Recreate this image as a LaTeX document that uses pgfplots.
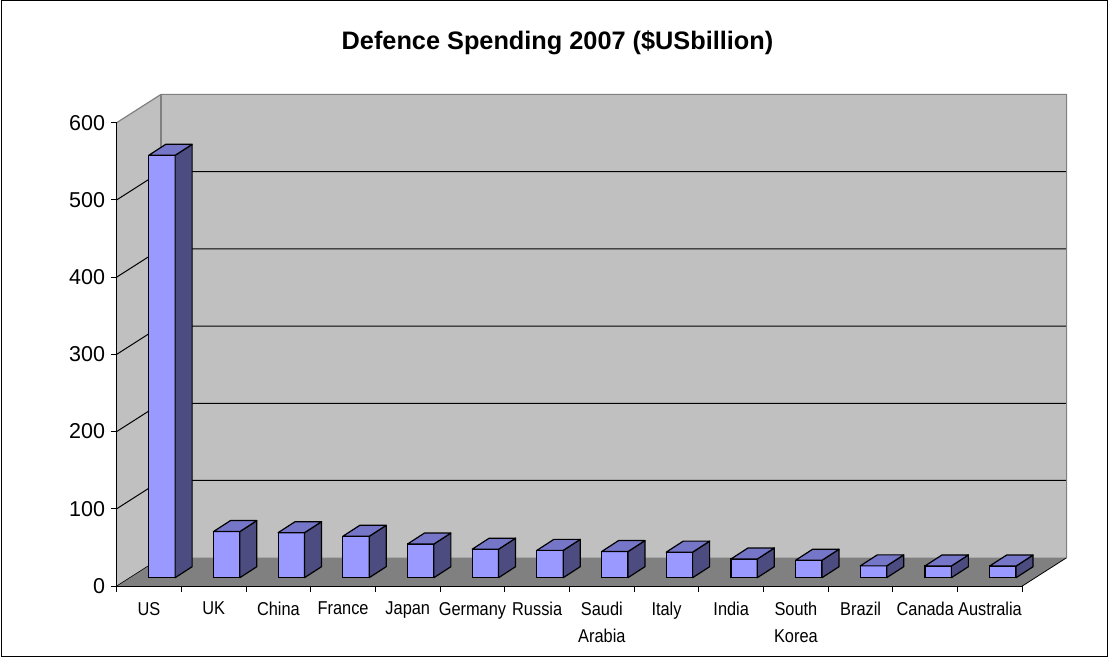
\documentclass[border=0pt]{standalone}
\usepackage{fontspec}
\setmainfont{Liberation Sans}
\newfontfamily\catfont[FakeStretch=0.88]{Liberation Sans}
\usepackage{pgfplots}
\usepackage{pgfplotstable}
\pgfplotsset{compat=1.18}
\definecolor{barfront}{HTML}{9999FF}
\definecolor{bartop}{HTML}{7676C8}
\definecolor{barside}{HTML}{4C4C80}
\definecolor{wallcol}{HTML}{C0C0C0}
\definecolor{floorcol}{HTML}{808080}
\definecolor{edgegray}{HTML}{808080}

\pgfplotstableread{
x val
0 547
1 59.7
2 58.3
3 53.6
4 43.6
5 36.9
6 35.4
7 33.8
8 33.1
9 24.2
10 22.6
11 15.3
12 15.2
13 15.1
}\spend

\pgfdeclareplotmark{prism}{%
  \pgfmathsetmacro\hh{\barval*0.77217}%
  \pgfsetlinewidth{1.2pt}\pgfsetroundjoin\pgfsetstrokecolor{black}%
  \pgfsetfillcolor{barside}%
  \pgfpathmoveto{\pgfqpoint{13.2pt}{0pt}}%
  \pgfpathlineto{\pgfqpoint{30.2pt}{11pt}}%
  \pgfpathlineto{\pgfpoint{30.2pt}{11pt-\hh pt}}%
  \pgfpathlineto{\pgfpoint{13.2pt}{-\hh pt}}%
  \pgfpathclose
  \pgfusepath{fill,stroke}%
  \pgfsetfillcolor{bartop}%
  \pgfpathmoveto{\pgfqpoint{-13.2pt}{0pt}}%
  \pgfpathlineto{\pgfqpoint{13.2pt}{0pt}}%
  \pgfpathlineto{\pgfqpoint{30.2pt}{11pt}}%
  \pgfpathlineto{\pgfqpoint{3.8pt}{11pt}}%
  \pgfpathclose
  \pgfusepath{fill,stroke}%
}

\begin{document}
\begin{tikzpicture}
\useasboundingbox (0pt,0pt) rectangle (1108pt,658pt);
\fill[white] (0pt,0pt) rectangle (1108pt,658pt);
\draw[black, line width=1pt] (1pt,1pt) rectangle (1107pt,657pt);
\node[font=\bfseries\fontsize{25.3}{29}\selectfont, anchor=base, inner sep=0pt] at (557.5pt,608pt) {Defence Spending 2007 (\$USbillion)};
\begin{axis}[
  x=64.686pt, y=0.77217pt,
  at={(116.7pt,72pt)}, anchor=south west,
  xmin=-0.5, xmax=13.5, ymin=0, ymax=600,
  clip=false, axis on top,
  axis x line*=bottom, axis y line*=left,
  axis line style={black, line width=0.9pt},
  tick align=outside, major tick length=6pt, minor tick length=6pt,
  tick style={black, line width=0.9pt},
  ytick={0,100,...,600},
  xtick={0,...,13},
  xticklabels={US,UK,China,France,Japan,Germany,Russia,Saudi\\Arabia,Italy,India,South\\Korea,Brazil,Canada,Australia},
  minor xtick={-0.5,0.5,...,13.5},
  major x tick style={draw=none},
  scaled ticks=false,
  /pgf/number format/assume math mode=true,
  yticklabel style={font=\fontsize{21.5}{24}\selectfont, anchor=east, inner sep=0pt, xshift=-5.5pt},
  xticklabel style={font=\catfont\fontsize{18.6}{27}\selectfont, align=center, anchor=north, inner sep=0pt, yshift=-10pt},
]
% walls
\fill[wallcol] (axis cs:-0.5,0) -- (axis cs:-0.5,600) -- (axis cs:0.185,636.65) -- (axis cs:0.185,36.65) -- cycle;
\fill[wallcol] (axis cs:0.185,36.65) rectangle (axis cs:14.185,636.65);
% gridlines
\draw[black, line width=1pt] (axis cs:-0.5,100) -- (axis cs:0.185,136.65) -- (axis cs:14.185,136.65);
\draw[black, line width=1pt] (axis cs:-0.5,200) -- (axis cs:0.185,236.65) -- (axis cs:14.185,236.65);
\draw[black, line width=1pt] (axis cs:-0.5,300) -- (axis cs:0.185,336.65) -- (axis cs:14.185,336.65);
\draw[black, line width=1pt] (axis cs:-0.5,400) -- (axis cs:0.185,436.65) -- (axis cs:14.185,436.65);
\draw[black, line width=1pt] (axis cs:-0.5,500) -- (axis cs:0.185,536.65) -- (axis cs:14.185,536.65);
% floor
\fill[floorcol] (axis cs:-0.5,0) -- (axis cs:13.5,0) -- (axis cs:14.185,36.65) -- (axis cs:0.185,36.65) -- cycle;
\draw[black, line width=0.6pt] (axis cs:-0.5,0) -- (axis cs:0.185,36.65);
\draw[black, line width=0.8pt] (axis cs:13.5,0) -- (axis cs:14.185,36.65);
% wall edges
\draw[edgegray, line width=1.2pt] (axis cs:-0.5,600) -- (axis cs:0.185,636.65) -- (axis cs:14.185,636.65) -- (axis cs:14.185,36.65);
\draw[edgegray, line width=1.2pt] (axis cs:0.185,36.65) -- (axis cs:0.185,636.65);
% bars: 3D top and side
\addplot[scatter, only marks, mark=prism, xshift=12.9pt, yshift=8.3pt,
  visualization depends on={\thisrow{val} \as \barval}] table[x=x,y=val]{\spend};
% bars: front faces
\addplot[ybar, bar width=26.4pt, bar shift=0pt, fill=barfront, draw=black, line width=1.2pt, xshift=12.9pt, yshift=8.3pt] table[x=x,y=val]{\spend};
\end{axis}
\end{tikzpicture}
\end{document}
